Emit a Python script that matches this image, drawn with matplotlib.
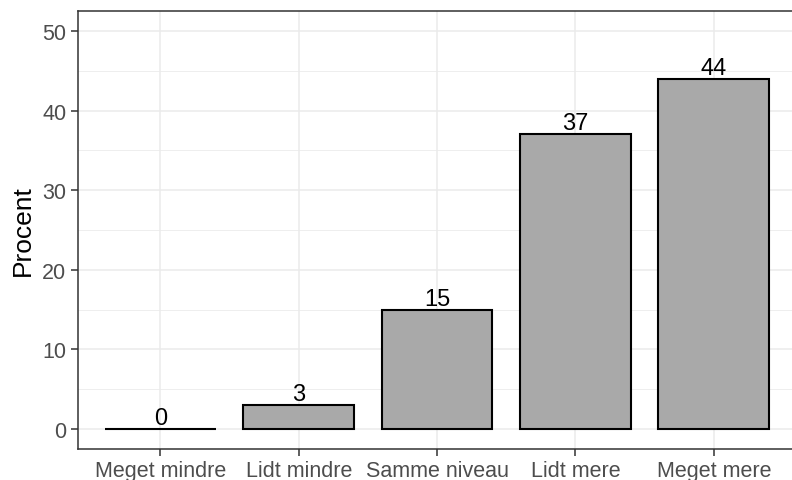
import matplotlib
matplotlib.use("Agg")
import matplotlib.pyplot as plt
from matplotlib.ticker import MultipleLocator

categories = ["Meget mindre", "Lidt mindre", "Samme niveau", "Lidt mere", "Meget mere"]
values = [0, 3, 15, 37, 44]
labels = ["0", "3", "15", "37", "44"]

plt.rcParams['font.family'] = ['Liberation Sans', 'DejaVu Sans']

fig = plt.figure(figsize=(7.92, 4.81), dpi=100)
ax = fig.add_axes([77.5/792, 31.0/481, 719.3/792, 438.0/481])

x = list(range(1, len(categories) + 1))
ax.bar(x, values, width=0.8, color="#A9A9A9", edgecolor="black", linewidth=1.5, zorder=3)
for xi, v, lab in zip(x, values, labels):
    ax.text(xi, v, lab, ha="center", va="bottom", fontsize=17, color="black", zorder=4)

ax.set_xlim(0.4, 5.6)
ax.set_ylim(-2.5, 52.5)
ax.set_xticks(x)
ax.set_xticklabels(categories)
ax.yaxis.set_major_locator(MultipleLocator(10))
ax.yaxis.set_minor_locator(MultipleLocator(5))
ax.grid(which="major", color="#EBEBEB", linewidth=1.1, zorder=0)
ax.grid(which="minor", axis="y", color="#EBEBEB", linewidth=0.6, zorder=0)
ax.set_axisbelow(True)
ax.tick_params(axis="both", which="major", labelsize=15.5, labelcolor="#4D4D4D",
               color="#333333", length=5, width=1.1, pad=3)
ax.tick_params(axis="y", which="minor", length=0)
for s in ax.spines.values():
    s.set_color("#333333")
    s.set_linewidth(1.1)
ax.set_ylabel("Procent", fontsize=19, color="black", labelpad=5)

fig.savefig("out.png", dpi=100)
